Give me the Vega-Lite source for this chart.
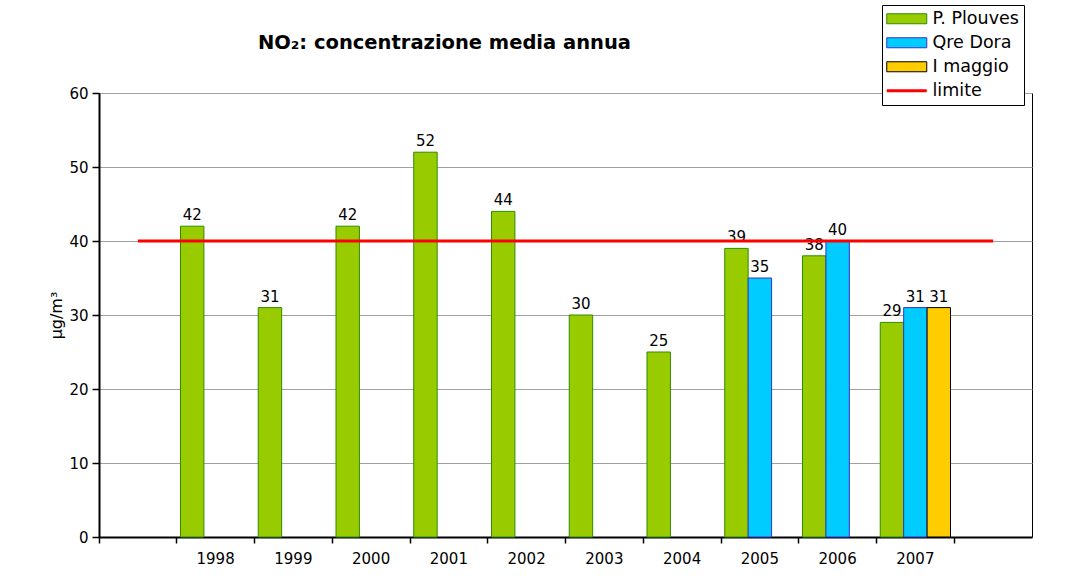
{
  "$schema": "https://vega.github.io/schema/vega-lite/v6.json",
  "width": 933,
  "height": 444,
  "autosize": {"type": "none"},
  "padding": {"left": 99, "top": 93, "right": 40, "bottom": 47},
  "background": "white",
  "title": {"text": "NO₂: concentrazione media annua", "anchor": "start", "dx": 209, "offset": 0, "dy": 64, "baseline": "alphabetic", "font": "DejaVu Sans", "fontSize": 19.5, "fontWeight": "bold", "color": "black"},
  "config": {"view": {"stroke": "#000000", "strokeWidth": 1}},
  "datasets": {
    "misure": [
      {"anno": "1998", "stazione": "P. Plouves", "valore": 42},
      {"anno": "1999", "stazione": "P. Plouves", "valore": 31},
      {"anno": "2000", "stazione": "P. Plouves", "valore": 42},
      {"anno": "2001", "stazione": "P. Plouves", "valore": 52},
      {"anno": "2002", "stazione": "P. Plouves", "valore": 44},
      {"anno": "2003", "stazione": "P. Plouves", "valore": 30},
      {"anno": "2004", "stazione": "P. Plouves", "valore": 25},
      {"anno": "2005", "stazione": "P. Plouves", "valore": 39},
      {"anno": "2006", "stazione": "P. Plouves", "valore": 38},
      {"anno": "2007", "stazione": "P. Plouves", "valore": 29},
      {"anno": "2005", "stazione": "Qre Dora", "valore": 35},
      {"anno": "2006", "stazione": "Qre Dora", "valore": 40},
      {"anno": "2007", "stazione": "Qre Dora", "valore": 31},
      {"anno": "2007", "stazione": "I maggio", "valore": 31}
    ],
    "limiti": [
      {"anno": "s0", "limite": 40},
      {"anno": "s1", "limite": 40}
    ]
  },
  "layer": [
    {
      "data": {"name": "misure"},
      "mark": {"type": "bar", "strokeWidth": 1},
      "encoding": {
        "x": {
          "field": "anno", "type": "nominal",
          "scale": {"domain": ["s0", "1998", "1999", "2000", "2001", "2002", "2003", "2004", "2005", "2006", "2007", "s1"], "paddingInner": 0, "paddingOuter": 0},
          "axis": {"title": null, "bandPosition": 0, "labelAngle": 0, "labelExpr": "length(datum.label) < 4 ? '' : datum.label", "grid": false, "domainColor": "#000000", "domainWidth": 2, "tickColor": "#000000", "tickWidth": 1.5, "tickSize": 6, "labelFont": "DejaVu Sans", "labelFontSize": 15, "labelColor": "#000000", "labelPadding": 8}
        },
        "xOffset": {"field": "stazione", "type": "nominal", "scale": {"domain": ["P. Plouves", "Qre Dora", "I maggio"], "paddingInner": 0, "paddingOuter": 0.16}},
        "y": {
          "field": "valore", "type": "quantitative",
          "scale": {"domain": [0, 60], "nice": false},
          "axis": {"title": "µg/m³", "values": [0, 10, 20, 30, 40, 50, 60], "grid": true, "gridColor": "#A0A0A0", "gridWidth": 1, "domainColor": "#000000", "domainWidth": 2, "tickColor": "#000000", "tickWidth": 1.5, "tickSize": 7, "labelFont": "DejaVu Sans", "labelFontSize": 15, "labelColor": "#000000", "labelPadding": 4, "titleFont": "DejaVu Sans", "titleFontSize": 16, "titleFontWeight": "normal", "titleColor": "#000000", "titlePadding": 4}
        },
        "color": {
          "field": "stazione", "type": "nominal",
          "scale": {"domain": ["P. Plouves", "Qre Dora", "I maggio", "limite"], "range": ["#99CC00", "#00CCFF", "#FFCC00", "#FF0000"]},
          "legend": {
            "orient": "none", "legendX": 783, "legendY": -88, "title": null,
            "strokeColor": "#000000", "fillColor": "#FFFFFF", "padding": 5,
            "labelFont": "DejaVu Sans", "labelFontSize": 17.5, "labelColor": "#000000",
            "symbolType": "M-2,-0.5H2V0.5H-2Z", "symbolSize": 400, "symbolStrokeWidth": 1, "symbolOpacity": 1,
            "symbolOffset": 11,
            "rowPadding": 5, "labelOffset": 17,
            "encode": {
              "symbols": {
                "update": {
                  "shape": {"signal": "datum.value === 'limite' ? 'M-2,0H2' : 'M-2,-0.5H2V0.5H-2Z'"},
                  "fill": {"signal": "datum.value === 'limite' ? 'transparent' : datum.value === 'P. Plouves' ? '#99CC00' : datum.value === 'Qre Dora' ? '#00CCFF' : '#FFCC00'"},
                  "stroke": {"signal": "datum.value === 'limite' ? '#FF0000' : datum.value === 'P. Plouves' ? '#2E8B00' : datum.value === 'Qre Dora' ? '#3333CC' : '#000000'"},
                  "strokeWidth": {"signal": "datum.value === 'limite' ? 3 : 1"}
                }
              }
            }
          }
        },
        "stroke": {
          "field": "stazione", "type": "nominal",
          "scale": {"domain": ["P. Plouves", "Qre Dora", "I maggio"], "range": ["#2E8B00", "#3333CC", "#000000"]},
          "legend": null
        }
      }
    },
    {
      "data": {"name": "misure"},
      "mark": {"type": "text", "baseline": "bottom", "dy": -3, "font": "DejaVu Sans", "fontSize": 15, "color": "#000000"},
      "encoding": {
        "x": {"field": "anno", "type": "nominal"},
        "xOffset": {"field": "stazione", "type": "nominal"},
        "y": {"field": "valore", "type": "quantitative"},
        "text": {"field": "valore", "type": "quantitative"}
      }
    },
    {
      "data": {"name": "limiti"},
      "mark": {"type": "line", "color": "#FF0000", "strokeWidth": 3},
      "encoding": {
        "x": {"field": "anno", "type": "nominal"},
        "y": {"field": "limite", "type": "quantitative"}
      }
    }
  ]
}
